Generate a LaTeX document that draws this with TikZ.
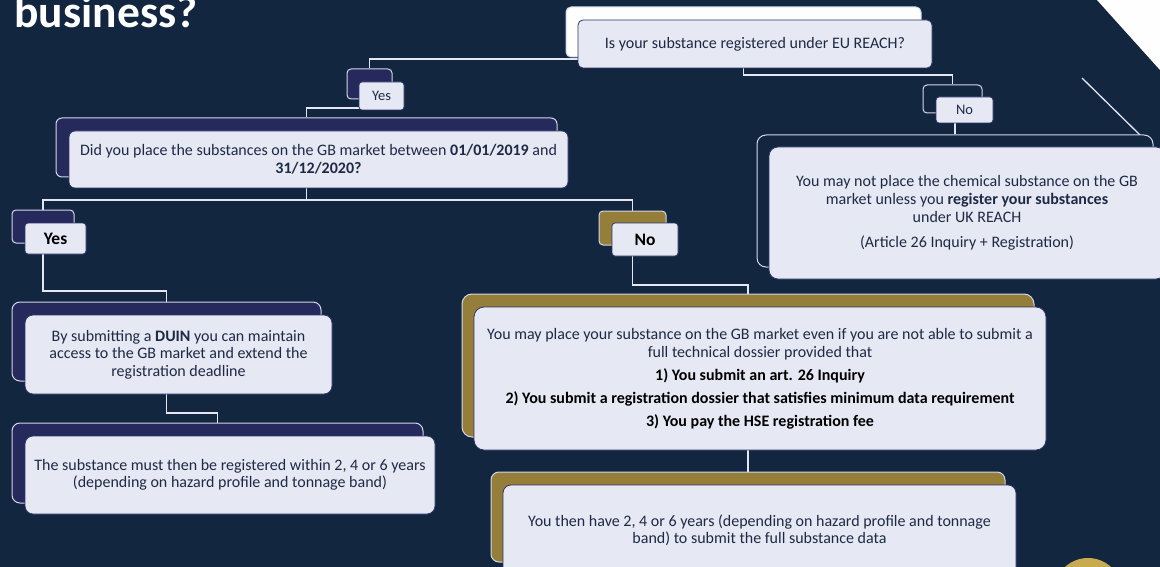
\documentclass[tikz,border=0pt]{standalone}
\usepackage{fontspec}
\setmainfont{Carlito}
\pgfdeclarelayer{bg}
\pgfdeclarelayer{conn}
\pgfsetlayers{bg,conn,main}
\definecolor{bgc}{HTML}{12263F}
\definecolor{indigo}{HTML}{25295C}
\definecolor{goldc}{HTML}{947E3A}
\definecolor{goldl}{HTML}{C9AA4E}
\definecolor{frontc}{HTML}{E6E8F4}
\definecolor{edged}{HTML}{2E3468}
\definecolor{edgel}{HTML}{D4D7EA}
\definecolor{txt}{HTML}{1E2A44}
\definecolor{linec}{HTML}{E4E6F2}
\tikzset{
  bk/.style={draw=edgel, line width=1pt, rounded corners=5pt, inner sep=0pt},
  fr/.style={draw=edged, fill=frontc, line width=0.8pt, rounded corners=5pt, inner sep=0pt,
    text=txt, align=center, font=\fontsize{16}{18}\selectfont},
  small/.style={font=\fontsize{14.5}{16}\selectfont},
  lab/.style={font=\fontsize{17.5}{19}\selectfont\bfseries, text=black},
  conn/.style={draw=linec, line width=1.3pt}
}
\begin{document}
\begin{tikzpicture}[x=1pt,y=-1pt]
\useasboundingbox (0,0) rectangle (1160,567);
\begin{pgfonlayer}{bg}
\fill[bgc] (0,0) rectangle (1160,567);
\fill[white!95!frontc] (1097,0) -- (1160,0) -- (1160,70) -- cycle;
\fill[goldl] (1088,592) circle (34);
\end{pgfonlayer}
\node[anchor=base west, text=white, font=\fontsize{45.5}{48}\selectfont\bfseries] (title) at (11,28) {business?};
\draw[linec, line width=1.3pt] (1082,78) -- (1140,135);

% top question
\node[bk, fill=white!96!frontc, minimum width=355, minimum height=50] (q1b) at (743.5,32) {};
\node[fr, minimum width=354, minimum height=48] (q1f) at (755,44) {Is your substance registered under EU REACH?};
% Yes 1
\node[bk, fill=indigo, rounded corners=4pt, minimum width=45, minimum height=30] (y1b) at (369.5,84) {};
\node[fr, small, rounded corners=3pt, minimum width=45, minimum height=28] (y1f) at (381.5,96) {Yes};
% No 1
\node[bk, fill=bgc, rounded corners=4pt, minimum width=59, minimum height=28] (n1b) at (952.5,99) {};
\node[fr, small, rounded corners=3pt, minimum width=57, minimum height=26] (n1f) at (964.5,110) {No};
% right box
\node[bk, fill=bgc, rounded corners=9pt, minimum width=396, minimum height=132] (rb) at (955,201) {};
\node[fr, rounded corners=9pt, minimum width=396, minimum height=132] (rf) at (967,213)
  {You may not place the chemical substance on the GB\\ market unless you \textbf{register your substances}\\ under UK REACH\\[7pt] (Article 26 Inquiry + Registration)};
% question 2
\node[bk, fill=indigo, rounded corners=6pt, minimum width=501, minimum height=59] (q2b) at (306.5,147.5) {};
\node[fr, rounded corners=6pt, minimum width=499, minimum height=57] (q2f) at (318.5,159.5)
  {Did you place the substances on the GB market between \textbf{01/01/2019} and\\ \textbf{31/12/2020?}};
% Yes 2
\node[bk, fill=indigo, rounded corners=4pt, minimum width=62, minimum height=33] (y2b) at (43,226.5) {};
\node[fr, lab, rounded corners=3pt, minimum width=61, minimum height=31] (y2f) at (55.5,238.5) {Yes};
% left chain
\node[bk, fill=indigo, rounded corners=8pt, minimum width=309, minimum height=79] (d1b) at (166.5,341.5) {};
\node[fr, rounded corners=8pt, minimum width=307, minimum height=79, font=\fontsize{16}{17.5}\selectfont] (d1f) at (178.5,354.5)
  {By submitting a \textbf{DUIN} you can maintain\\ access to the GB market and extend the\\ registration deadline};
\node[bk, fill=indigo, rounded corners=8pt, minimum width=411, minimum height=80] (d2b) at (217.5,463) {};
\node[fr, rounded corners=8pt, minimum width=410, minimum height=78, font=\fontsize{16}{17.5}\selectfont] (d2f) at (230,475)
  {The substance must then be registered within 2, 4 or 6 years\\ (depending on hazard profile and tonnage band)};
% No 2
\node[bk, fill=goldc, rounded corners=4pt, minimum width=67, minimum height=34] (no2b) at (632.5,228) {};
\node[fr, lab, rounded corners=3pt, minimum width=66, minimum height=33] (no2f) at (645,239.5) {No};
% middle chain
\node[bk, fill=goldc, rounded corners=10pt, minimum width=572, minimum height=143] (m1b) at (748,365.5) {};
\node[fr, rounded corners=10pt, minimum width=572, minimum height=143] (m1f) at (760,378.5)
  {You may place your substance on the GB market even if you are not able to submit a\\ full technical dossier provided that\\[5pt]
   \textcolor{black}{\textbf{1) You submit an art. 26 Inquiry}}\\[5pt]
   \textcolor{black}{\textbf{2) You submit a registration dossier that satisfies minimum data requirement}}\\[5pt]
   \textcolor{black}{\textbf{3) You pay the HSE registration fee}}};
\node[bk, fill=goldc, rounded corners=8pt, minimum width=514, minimum height=90] (m2b) at (748,517) {};
\node[fr, rounded corners=8pt, minimum width=513, minimum height=90, font=\fontsize{16}{17}\selectfont] (m2f) at (759.5,530)
  {You then have 2, 4 or 6 years (depending on hazard profile and tonnage\\ band) to submit the full substance data};

\begin{pgfonlayer}{conn}
\draw[conn] (q1b.center) -- ++(0,27) -| (y1b.north);
\draw[conn] (q1b.center) -- ++(0,43) -| (n1b.north);
\draw[conn] (y1b.center) -- ++(0,24) -| (q2b.north);
\draw[conn] (n1b.center) -- ++(0,20) -| (rb.north);
\draw[conn] (q2b.center) -- ++(0,52.5) -| (y2b.north);
\draw[conn] (q2b.center) -- ++(0,52.5) -| (no2b.north);
\draw[conn] (y2b.center) -- ++(0,64.5) -| (d1b.north);
\draw[conn] (d1b.center) -- ++(0,71.5) -| (d2b.north);
\draw[conn] (no2b.center) -- ++(0,57) -| (m1b.north);
\draw[conn] (m1b.center) -- (m2b.north);
\end{pgfonlayer}
\end{tikzpicture}
\end{document}
